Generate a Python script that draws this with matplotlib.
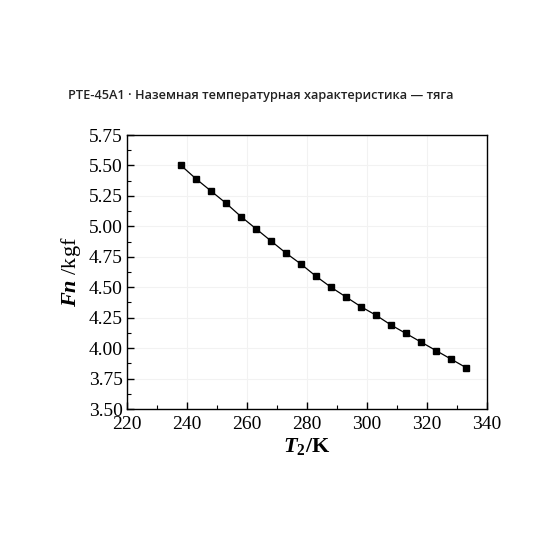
import matplotlib
matplotlib.use("Agg")
import matplotlib.pyplot as plt
from matplotlib.ticker import MultipleLocator

# ground temperature characteristic, thrust vs inlet temperature
t2 = [238, 243, 248, 253, 258, 263, 268, 273, 278, 283,
      288, 293, 298, 303, 308, 313, 318, 323, 328, 333]
fn = [5.50, 5.39, 5.29, 5.19, 5.08, 4.98, 4.88, 4.78, 4.69, 4.59,
      4.50, 4.42, 4.34, 4.27, 4.19, 4.12, 4.05, 3.98, 3.91, 3.84]

title = "PTE-45A1 · Наземная температурная характеристика — тяга"

plt.rcParams['font.family'] = ['Liberation Serif', 'DejaVu Serif']
plt.rcParams['mathtext.fontset'] = 'custom'
plt.rcParams['mathtext.rm'] = 'Liberation Serif'
plt.rcParams['mathtext.it'] = 'Liberation Serif:italic'
plt.rcParams['mathtext.bf'] = 'Liberation Serif:bold'
plt.rcParams['mathtext.bfit'] = 'Liberation Serif:bold:italic'

fig = plt.figure(figsize=(5.6, 5.6), dpi=100)
ax = fig.add_axes([127/560, 1 - 409/560, 360/560, 274/560])

ax.plot(t2, fn, '-', color='black', linewidth=0.9, marker='s',
        markersize=4.5, markerfacecolor='black', markeredgecolor='black')

ax.set_xlim(220, 340)
ax.set_ylim(3.5, 5.75)
ax.xaxis.set_major_locator(MultipleLocator(20))
ax.xaxis.set_minor_locator(MultipleLocator(10))
ax.yaxis.set_major_locator(MultipleLocator(0.25))
ax.yaxis.set_minor_locator(MultipleLocator(0.125))
ax.yaxis.set_major_formatter(plt.FormatStrFormatter('%.2f'))

ax.grid(True, which='major', color='#f2f2f2', linewidth=0.8)
ax.set_axisbelow(True)

ax.tick_params(which='both', direction='in', top=False, right=False)
ax.tick_params(which='major', length=5, width=1, labelsize=14)
ax.tick_params(axis='y', which='major', pad=3)
ax.tick_params(axis='x', which='major', pad=5)
ax.tick_params(which='minor', length=3, width=0.8)
for sp in ax.spines.values():
    sp.set_linewidth(1.0)

ax.set_xlabel(r'$\mathbfit{T}_{\mathbf{2}}\mathbf{/K}$', fontsize=16, labelpad=2)
ax.set_ylabel(r'$\mathbfit{Fn}$ /kgf', fontsize=16, labelpad=4)

fig.text(261/560, 1 - 95/560, title, ha='center', va='center',
         fontsize=9.2, family='Open Sans', fontweight='semibold', color='#222222')

fig.savefig('out.png', dpi=100, facecolor='white')
